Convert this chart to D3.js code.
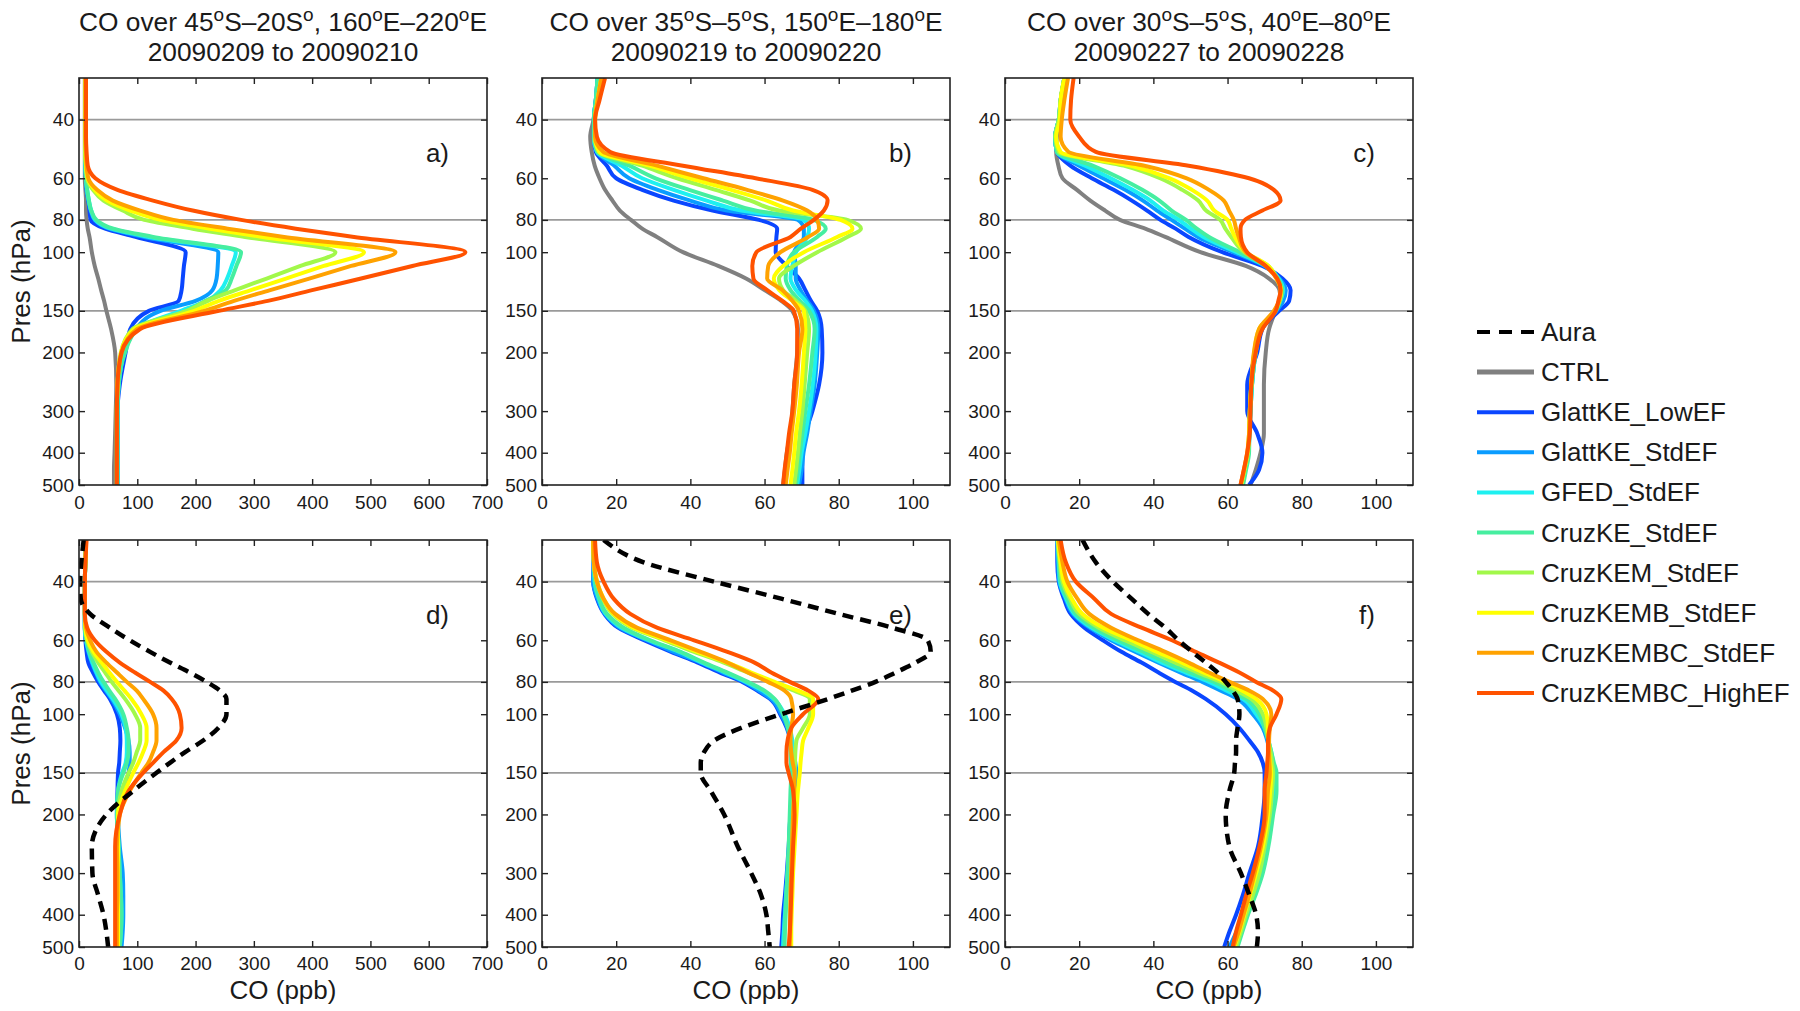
<!DOCTYPE html>
<html>
<head>
<meta charset="utf-8">
<script src="https://cdn.jsdelivr.net/npm/d3@7"></script>
<style>
	body { margin: 0; background: #fff; }
	text { font-family: "Liberation Sans", Arial, Helvetica, sans-serif; fill: #1a1a1a; }
</style>
</head>
<body>
<script>
// pressure levels (hPa) shared by every profile
var levels = [30, 35, 40, 45, 50, 55, 60, 65, 70, 75, 80, 85, 90, 100, 110, 120, 130, 140, 150, 170, 200, 250, 300, 350, 400, 450, 500];

var seriesNames = ["Aura", "CTRL", "GlattKE_LowEF", "GlattKE_StdEF", "GFED_StdEF", "CruzKE_StdEF",
	"CruzKEM_StdEF", "CruzKEMB_StdEF", "CruzKEMBC_StdEF", "CruzKEMBC_HighEF"];
var seriesColors = ["#000000", "#808080", "#0a46ff", "#0a9cff", "#1ef0f0", "#46eea0",
	"#a2f84a", "#ffff00", "#ffa200", "#ff5200"];

var yTicks = [40, 60, 80, 100, 150, 200, 300, 400, 500];
var gridLevels = [40, 80, 150];
var xTicksWide = [0, 100, 200, 300, 400, 500, 600, 700];
var xTicksNarrow = [0, 20, 40, 60, 80, 100];

var titles = [
	["CO over 45^oS\u201320S^o, 160^oE\u2013220^oE", "20090209 to 20090210"],
	["CO over 35^oS\u20135^oS, 150^oE\u2013180^oE", "20090219 to 20090220"],
	["CO over 30^oS\u20135^oS, 40^oE\u201380^oE", "20090227 to 20090228"]
];

// CO (ppb) per level
var panelA = {
	CTRL:             [10,10,10,10,10,10,10,11,12,12,13,15,18,22,27,33,38,43,47,55,62,64,63,62,61,60,60],
	GlattKE_LowEF:    [11,11,11,11,11,11,12,13,16,18,20,45,97,183,180,178,176,171,120,88,80,70,66,66,66,66,66],
	GlattKE_StdEF:    [11,11,11,11,11,11,12,13,16,20,27,52,112,239,238,236,229,200,140,97,78,68,66,66,66,66,66],
	GFED_StdEF:       [11,11,11,11,11,11,12,14,17,21,28,55,120,269,262,254,243,220,175,98,78,68,66,66,66,66,66],
	CruzKE_StdEF:     [11,11,11,11,11,11,12,14,17,21,30,59,127,278,270,262,252,217,185,100,79,68,66,66,66,66,66],
	CruzKEM_StdEF:    [11,11,11,11,11,12,14,24,42,75,112,195,285,440,380,322,268,220,185,92,72,66,65,65,65,65,65],
	CruzKEMB_StdEF:   [11,11,11,11,11,12,15,27,48,88,140,225,315,489,420,355,295,240,198,95,72,66,65,65,65,65,65],
	CruzKEMBC_StdEF:  [11,11,11,11,12,13,16,31,58,105,162,255,352,543,467,395,328,266,215,100,73,66,65,65,65,65,65],
	CruzKEMBC_HighEF: [12,12,12,12,13,15,28,66,127,195,278,372,472,663,572,484,400,324,240,105,73,66,65,65,65,65,65]
};
var panelB = {
	CTRL:             [15.7,14.5,13.9,13,13.4,14.2,15.5,17,19,21,24,27,31,38,47.5,55,60,64.5,67.5,69,68.8,68,67.5,67,66,65.5,65],
	GlattKE_LowEF:    [15,14.5,14,14,14.5,17.5,20,27,35.5,46,58.5,63.4,63.2,63,66,69.3,71,72.5,74.2,75.4,75.6,74.7,72.9,71,70.2,70.2,70.2],
	GlattKE_StdEF:    [15,14.5,14,14,14.8,19.5,23.5,31.2,40,49.8,69,70.6,70.6,68,68.4,68.4,69.7,71.5,73.3,74.5,74.2,73.5,72.4,71.5,70.5,70,69.3],
	GFED_StdEF:       [15,14.5,14,14,14.8,21.5,27,35.5,44.4,53.7,70.6,72,71.5,68.5,67.5,67,68.5,71,72.8,74,73.8,73,72,71,70,69.4,68.8],
	CruzKE_StdEF:     [15,14.5,14,14,15,23.6,30.6,39.7,48.8,57.5,73.3,76.5,74.2,67.9,66,65.7,67,69.5,72,73.5,72.9,72,71,70.2,69.5,69,68.4],
	CruzKEM_StdEF:    [16,15,14.3,14.3,15.3,27,36.5,46.8,56.2,63.9,82.3,86,82.3,74.2,67.9,63.9,65,68.5,71,72,71.5,70.8,70.2,69.5,69,68.5,68],
	CruzKEMB_StdEF:   [16,15,14.3,14.3,15.5,29,40,51,60.6,67.7,80.5,83.7,79.6,70.6,65,62.5,64,67.5,70.6,71,70.6,70,69.3,68.5,68,67.5,67],
	CruzKEMBC_StdEF:  [16,15,14.3,14.3,16.5,31,43.5,55.3,65,71.5,74.2,74.7,71.8,64.3,61,60.7,64.8,67.5,69.3,70.2,69.3,68.7,68,67.3,66.8,66.2,65.7],
	CruzKEMBC_HighEF: [17,15.5,14.3,14.8,18.4,38,57.6,72.9,77,76,73.3,69.8,67,57.8,56.7,57,60.7,64.8,67.9,68.8,68.8,68,67.5,66.6,66,65.4,65]
};
var panelC = {
	CTRL:             [16.7,15.5,14.9,14,13.8,14.4,15.5,19.4,23,27,31,37.8,43.2,52.7,64.9,71.2,74,74.3,73,71.2,70.3,69.8,69.8,69.8,68.9,67.6,66.2],
	GlattKE_LowEF:    [16,15,14.5,13.5,14,17.6,23.4,29.3,34.2,38.3,41.9,46,49.5,58.6,69.4,74.8,77,76.6,73.9,69.4,68,65.3,65.3,68,69.4,68.5,65.8],
	GlattKE_StdEF:    [16,15,14.5,13.5,14,20,26.5,32.4,37.2,41,44.9,48.5,52,61.5,70,74,75.7,75,73.2,69,67.6,66.6,66.2,65.9,65.6,64.8,64],
	GFED_StdEF:       [16,15,14.5,13.5,14,21.6,28.5,34.4,39.2,42.7,46.9,50.1,53.5,62.5,70.3,73.8,75,74.2,73,69,67.6,66.6,66.2,65.9,65.6,64.8,64],
	CruzKE_StdEF:     [16,15,14.5,13.5,14,23.6,31.1,37,41.6,44.9,48.8,51.7,55,63.3,70.5,73.6,74.8,74.2,73,68.9,67.6,66.6,66.2,65.9,65.8,65,64.2],
	CruzKEM_StdEF:    [16,15,14.5,13.6,14.5,32,41.8,47.8,52.1,54.2,58,59.4,61,64.5,71,73.3,74.5,74,72.8,68.6,67.3,66.4,66,65.8,65.5,64.6,63.8],
	CruzKEMB_StdEF:   [16,15,14.8,13.8,15,34,44.4,50.4,54.5,56.4,60,61,62,65,71,73.2,74.4,73.9,72.7,68.5,67.2,66.4,66,65.8,65.4,64.5,63.6],
	CruzKEMBC_StdEF:  [17,16,15.3,15,17.1,37.6,49,55,59,60.4,61.7,62.3,63,64.9,70.3,73.2,74.3,73.9,72.5,68.5,67.1,66.4,66,65.8,65.3,64.4,63.5],
	CruzKEMBC_HighEF: [18.5,17.8,17.6,20,24.5,49.5,65.8,72.5,74.3,69.4,64.7,63.5,63.6,65.3,70.3,73.4,74.3,73.7,73,69.4,67.6,66.4,66.2,66,65.3,64.4,63.5]
};
var panelD = {
	GlattKE_LowEF:    [12,11,10,10,10,10,11,13,16,24,33,43,53,65,70,71,70,69,67,66,65,68,70,70,70,70,70],
	GlattKE_StdEF:    [12,11,10,10,10,10,12,16,22,29,36,46,56,70,79,85,87,87,85,76,67,70,75,76,76,75,73],
	GFED_StdEF:       [12,11,10,10,10,10,12,17,23,30,38,48,58,73,80,82,82,80,74,67,65,68,70,72,73,72,70],
	CruzKE_StdEF:     [12,11,10,10,10,10,13,18,25,33,42,52,62,76,82,85,85,82,76,67,65,68,70,72,73,72,70],
	CruzKEM_StdEF:    [12,11,10,10,10,11,14,22,33,45,56,68,79,96,105,105,99,93,85,73,67,67,67,67,67,67,67],
	CruzKEMB_StdEF:   [12,11,10,10,10,11,15,25,39,52,65,78,90,107,116,116,110,102,93,79,67,67,67,67,67,67,67],
	CruzKEMBC_StdEF:  [12,11,10,10,10,12,19,30,47,65,82,99,110,127,133,133,127,119,107,87,70,65,66,66,65,65,65],
	CruzKEMBC_HighEF: [13,11,10,10,10,14,27,47,70,96,122,145,159,173,176,167,145,127,110,85,70,62,62,62,62,62,62],
	Aura:             [8,4,2,3,19,53,87,122,156,190,219,242,253,253,239,213,182,156,133,93,47,22,23,33,42,47,50]
};
var panelE = {
	GlattKE_LowEF:    [13.8,13.9,13.8,14.8,16.8,20.5,27.5,34.8,42,48,54,58,61.5,64.2,66,67,67.5,68,68.3,67.7,67,66.5,66,65.5,65,64.8,64.5],
	GlattKE_StdEF:    [13.8,13.9,13.8,15,17,21,28.3,35.5,42.8,48.8,54.6,58.5,61.8,64.5,66.2,67.2,67.8,68.3,68.6,68,67.2,66.7,66.2,65.8,65.5,65.2,65],
	GFED_StdEF:       [13.8,14,14.2,15.3,17.2,21.5,28.8,37,43.2,49.5,55,59.5,62.5,65.4,66.8,67.5,67.8,68,68.1,67.6,67,66.6,66.2,65.8,65.5,65.2,65],
	CruzKE_StdEF:     [13.8,14,14.3,15.5,17.5,22,29.2,37.4,43.7,50,55.5,60,62.7,65,66.3,66.8,67,67.1,67.2,67,66.8,66.5,66.2,65.9,65.7,65.5,65.4],
	CruzKEM_StdEF:    [13.8,14,14.8,16.4,19,24.2,33,41,49,55.5,62,68,72.2,72.2,70.4,68.6,68.3,68.2,68.1,67.9,67.7,67.4,67.2,67,66.9,66.8,66.8],
	CruzKEMB_StdEF:   [13.8,14,14.8,16.6,19.3,24.7,33.8,41.9,50,56.4,62.7,69,73.1,73.1,71.8,70.4,70,69.7,69.5,69,68.6,68.1,67.7,67.5,67.3,67.2,67.2],
	CruzKEMBC_StdEF:  [13.8,14,14.8,16.6,19.7,25.6,34.7,42.8,50,55.5,60.9,65.4,67.2,67.7,67.2,67,67.2,67.6,68.1,68,67.7,67.4,67.2,67,67,66.9,66.8],
	CruzKEMBC_HighEF: [14.3,14.8,16.6,19.3,23.8,31,41,50,57.3,61.8,66.8,71.8,74.5,70.4,67.2,66.2,65.9,65.9,66.5,67.7,68.1,67.7,67.4,67.2,67,66.8,66.5],
	Aura:             [16.6,27.4,46.4,64.5,80,94.4,104,104.8,100.7,95.3,89.9,83.5,77.2,64.5,53.7,46.4,43.7,42.8,42.8,45.5,49.1,52.8,56.4,59.1,60.5,61,61.4]
};
var panelF = {
	GlattKE_LowEF:    [14.1,14.1,14.5,15.9,17.7,21.4,26.4,31.4,36.8,41.4,45.9,50.5,54.1,59.5,63.2,65.9,68.2,69.5,70,70,69.5,68.2,65.9,64.1,62.3,60.5,59.1],
	GlattKE_StdEF:    [14.1,14.3,14.6,16.3,18.3,22.8,28.6,35.2,41.4,47.4,53.2,58.2,62.7,66.8,69.5,70.7,71.5,72,72.3,72,71.4,70,68.6,66.5,64.3,62.4,60.5],
	GFED_StdEF:       [14.2,14.5,14.8,16.5,18.7,23.3,29.5,36.3,42.3,48.8,55,59.8,64.1,67.7,70,71,71.8,72.3,72.7,72.5,71.8,70.5,69.1,67,65,63.3,61.8],
	CruzKE_StdEF:     [14.2,14.6,15,16.8,19.1,24,30.5,37.5,43.6,50,56.4,61,65,68.6,70,71,71.8,72.5,73.2,73.2,72.3,71,69.5,67.5,65.5,64,62.7],
	CruzKEM_StdEF:    [14.2,14.8,15.5,17.5,20,25.3,32.3,39.5,45.9,52,58.2,62.5,66.4,69.5,70.5,71,71.6,72,72.3,72,71.4,70,68.6,66.8,65,63.6,62.3],
	CruzKEMB_StdEF:   [14.3,15,15.9,18,20.9,26.5,34.1,41,47.7,53.6,59.5,64,67.7,70.5,70.9,70.9,71.2,71.5,71.8,71.5,70.9,69.5,67.7,66,64.5,63.2,61.8],
	CruzKEMBC_StdEF:  [14.5,15.5,16.8,19.5,22.7,28.6,35.9,43.2,49.5,55,60.5,65.9,69.5,71.8,71.4,71.2,71.2,71.3,71.4,70.9,70.5,69,67.3,65.8,64.3,63,61.6],
	CruzKEMBC_HighEF: [15,16.4,19.1,24.1,28.6,36.8,45,51.4,57.7,63.2,67.7,72.3,74.5,73.2,71.4,70.9,70.9,70.7,70.5,70,70,68.6,66.8,65,63.6,62.3,61.4],
	Aura:             [20.9,24.5,29.1,34.1,38.6,43.2,46.8,50.5,54.1,57.3,59.5,61.4,62.7,63.2,62.7,62.3,62.3,62,61.8,60.5,59.5,60.5,63.6,65.9,67.7,68.2,67.9]
};

(function(){
	var svg = d3.select("body")
			.append("svg")
			.attr("width", 1800)
			.attr("height", 1011);

	var colX = [79, 542, 1005],
		rowY = [78, 540],
		plotW = 408,
		plotH = 407;

	var panels = [
		{ row: 0, col: 0, data: panelA, xMax: 700, ticks: xTicksWide, label: "a)" },
		{ row: 0, col: 1, data: panelB, xMax: 110, ticks: xTicksNarrow, label: "b)" },
		{ row: 0, col: 2, data: panelC, xMax: 110, ticks: xTicksNarrow, label: "c)" },
		{ row: 1, col: 0, data: panelD, xMax: 700, ticks: xTicksWide, label: "d)" },
		{ row: 1, col: 1, data: panelE, xMax: 110, ticks: xTicksNarrow, label: "e)" },
		{ row: 1, col: 2, data: panelF, xMax: 110, ticks: xTicksNarrow, label: "f)" }
	];

	// title text with ^o marking a superscript degree
	function addRichText(sel, str) {
		var parts = str.split("^o");
		parts.forEach(function(p, i) {
			if (i > 0) {
				sel.append("tspan").attr("dy", -10).attr("font-size", 19).text("o");
				sel.append("tspan").attr("dy", 10).text(p);
			} else {
				sel.append("tspan").text(p);
			}
		});
	}

	titles.forEach(function(t, i) {
		var cx = colX[i] + plotW / 2;
		var t1 = svg.append("text")
				.attr("x", cx)
				.attr("y", 31)
				.attr("text-anchor", "middle")
				.attr("font-size", 26.3);
		addRichText(t1, t[0]);
		svg.append("text")
			.attr("x", cx)
			.attr("y", 61)
			.attr("text-anchor", "middle")
			.attr("font-size", 26.3)
			.text(t[1]);
	});

	panels.forEach(function(pn, idx) {
		var x0 = colX[pn.col], y0 = rowY[pn.row];
		var g = svg.append("g").attr("transform", "translate(" + x0 + "," + y0 + ")");

		var x = d3.scaleLinear().domain([0, pn.xMax]).range([0, plotW]);
		var y = d3.scaleLog().domain([30, 500]).range([0, plotH]);

		g.append("clipPath")
			.attr("id", "clip" + idx)
			.append("rect")
			.attr("width", plotW)
			.attr("height", plotH);

		// horizontal reference lines
		g.selectAll(".grid")
			.data(gridLevels)
			.enter()
			.append("line")
			.attr("x1", 0)
			.attr("x2", plotW)
			.attr("y1", function(d){ return y(d); })
			.attr("y2", function(d){ return y(d); })
			.attr("stroke", "#9a9a9a")
			.attr("stroke-width", 1.6);

		var line = d3.line()
				.x(function(d){ return x(d.v); })
				.y(function(d){ return y(d.p); })
				.curve(d3.curveMonotoneY);

		var plot = g.append("g").attr("clip-path", "url(#clip" + idx + ")");

		// CTRL first, then the runs low to high, Aura on top
		var order = [1, 2, 3, 4, 5, 6, 7, 8, 9, 0];
		order.forEach(function(si) {
			var name = seriesNames[si];
			var vals = pn.data[name];
			if (!vals) return;
			var pts = levels.map(function(p, k){ return { p: p, v: vals[k] }; });
			plot.append("path")
				.attr("d", line(pts))
				.attr("fill", "none")
				.attr("stroke", seriesColors[si])
				.attr("stroke-width", name == "Aura" ? 4.5 : 4)
				.attr("stroke-dasharray", name == "Aura" ? "11,7" : null)
				.attr("stroke-linejoin", "round");
		});

		// axes, ticks pointing inward
		var left = g.append("g")
				.call(d3.axisLeft(y).tickValues(yTicks).tickFormat(d3.format("d"))
					.tickSizeInner(-6).tickSizeOuter(0).tickPadding(5));
		var right = g.append("g")
				.attr("transform", "translate(" + plotW + ",0)")
				.call(d3.axisRight(y).tickValues(yTicks).tickFormat("")
					.tickSizeInner(-6).tickSizeOuter(0));
		var bottom = g.append("g")
				.attr("transform", "translate(0," + plotH + ")")
				.call(d3.axisBottom(x).tickValues(pn.ticks)
					.tickSizeInner(-6).tickSizeOuter(0).tickPadding(pn.row == 0 ? 11 : 10));
		var top = g.append("g")
				.call(d3.axisTop(x).tickValues(pn.ticks).tickFormat("")
					.tickSizeInner(-6).tickSizeOuter(0));

		[left, right, bottom, top].forEach(function(a) {
			a.select(".domain").remove();
			a.selectAll("line").attr("stroke", "#222").attr("stroke-width", 1.4);
			a.selectAll("text")
				.attr("font-size", 19)
				.attr("fill", "#1a1a1a")
				.attr("font-family", "Liberation Sans, Arial, sans-serif");
		});

		g.append("rect")
			.attr("width", plotW)
			.attr("height", plotH)
			.attr("fill", "none")
			.attr("stroke", "#222")
			.attr("stroke-width", 1.6);

		g.append("text")
			.attr("x", plotW - 38)
			.attr("y", 84)
			.attr("text-anchor", "end")
			.attr("font-size", 26)
			.text(pn.label);

		if (pn.col == 0) {
			svg.append("text")
				.attr("transform", "translate(" + 30 + "," + (y0 + plotH / 2) + ") rotate(-90)")
				.attr("text-anchor", "middle")
				.attr("font-size", 26)
				.text("Pres (hPa)");
		}
		if (pn.row == 1) {
			svg.append("text")
				.attr("x", x0 + plotW / 2)
				.attr("y", 999)
				.attr("text-anchor", "middle")
				.attr("font-size", 26)
				.text("CO (ppb)");
		}
	});

	// legend
	var legend = svg.append("g").attr("transform", "translate(1477,332)");
	seriesNames.forEach(function(name, i) {
		var row = legend.append("g").attr("transform", "translate(0," + (i * 40.1) + ")");
		row.append("line")
			.attr("x1", 0)
			.attr("x2", 57)
			.attr("stroke", seriesColors[i])
			.attr("stroke-width", name == "CTRL" ? 5 : 4)
			.attr("stroke-dasharray", name == "Aura" ? "13,9" : null);
		row.append("text")
			.attr("x", 64)
			.attr("y", 9)
			.attr("font-size", 26)
			.text(name);
	});
})();
</script>
</body>
</html>
